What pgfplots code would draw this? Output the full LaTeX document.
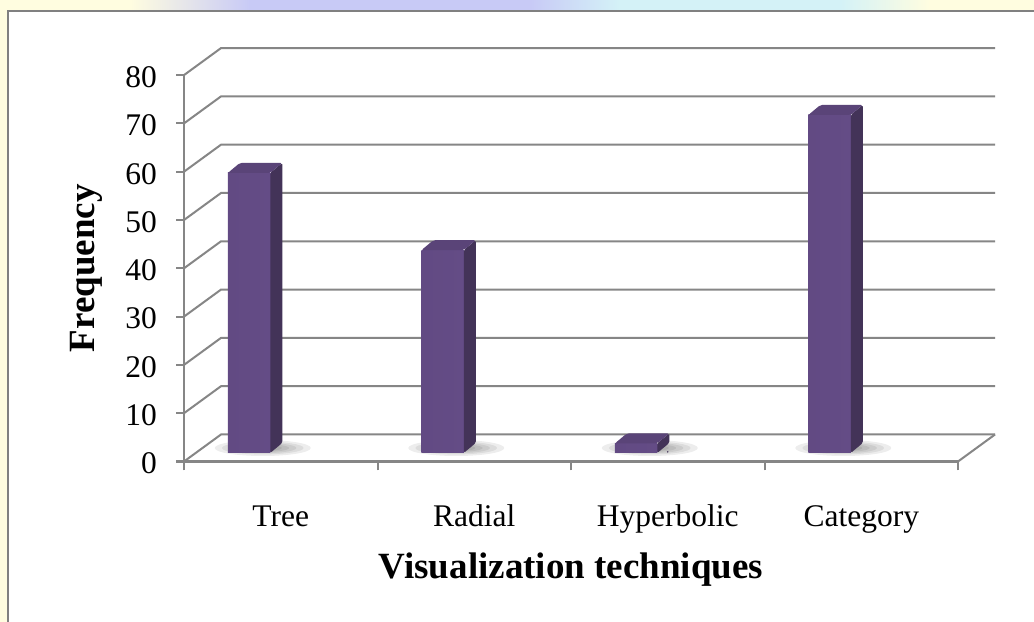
\documentclass[border=0pt]{standalone}
\usepackage{pgfplots}
\pgfplotsset{compat=1.18}
\usepackage{fontspec}
\setmainfont{Liberation Serif}
\definecolor{bgy}{RGB}{255,253,224}
\definecolor{lav}{RGB}{200,202,246}
\definecolor{cya}{RGB}{212,242,247}
\definecolor{gridc}{RGB}{134,134,134}
\definecolor{brdc}{RGB}{128,128,128}
\definecolor{fl}{RGB}{98,74,131}
\definecolor{fm}{RGB}{110,85,146}
\definecolor{fr}{RGB}{100,76,134}
\definecolor{sidec}{RGB}{67,51,88}
\definecolor{topc}{RGB}{90,68,120}
\pgfplotstableread{
x v
0.5 58
1.5 42
2.5 2
3.5 70
}\datatable
\begin{document}
\begin{tikzpicture}
\useasboundingbox (0bp,0bp) rectangle (1034bp,622bp);
\fill[bgy] (0bp,0bp) rectangle (1034bp,622bp);
\shade[left color=bgy, right color=lav] (130bp,612bp) rectangle (250bp,622bp);
\fill[lav] (250bp,612bp) rectangle (530bp,622bp);
\shade[left color=lav, right color=cya] (530bp,612bp) rectangle (620bp,622bp);
\fill[cya] (620bp,612bp) rectangle (840bp,622bp);
\shade[left color=cya, right color=bgy] (840bp,612bp) rectangle (930bp,622bp);
\fill[white] (8bp,0bp) rectangle (1034bp,611bp);
\draw[brdc, line width=2bp] (8bp,0bp) -- (8bp,611bp) -- (1034bp,611bp);
\begin{axis}[
  at={(184bp,160.5bp)}, anchor=south west,
  x=193.5bp, y=4.83bp,
  xmin=0, xmax=4, ymin=0, ymax=80,
  enlargelimits=false, clip=false,
  axis x line*=bottom, axis y line*=left,
  axis line style={gridc, line width=2bp},
  every tick/.style={gridc, line width=2bp},
  tick align=outside,
  major tick length=8bp, minor tick length=9bp,
  xtick={0.5,1.5,2.5,3.5},
  xticklabels={Tree,Radial,Hyperbolic,Category},
  major x tick style={draw=none},
  minor xtick={0,1,2,3,4},
  ytick={0,10,...,80},
  /pgf/number format/assume math mode=true,
  tick label style={font=\fontsize{31.5bp}{36bp}\selectfont, inner sep=0pt},
  yticklabel style={anchor=east, xshift=-19bp, yshift=-2bp},
  xticklabel style={anchor=base, yshift=-57bp},
  xlabel={Visualization techniques},
  ylabel={Frequency},
  label style={font=\fontsize{37bp}{42bp}\selectfont\bfseries},
  xlabel style={at={([yshift=-116.5bp]axis description cs:0.5,0)}, anchor=base},
  ylabel style={at={([xshift=-98bp]axis description cs:0,0.5)}, anchor=center},
]
\pgfplotsinvokeforeach{0,10,...,80}{
  \draw[gridc, line width=2bp] (axis cs:0,#1) -- ++(37bp,27bp) -- ([shift={(37bp,27bp)}]axis cs:4,#1);
}
\draw[gridc, line width=2bp] (axis cs:4,0) -- ++(37bp,27bp);
\addplot[
  scatter, only marks, mark=*, mark size=0.5pt,
  mark options={draw=sidec, fill=sidec},
  visualization depends on={rawy \as \barval},
  scatter/@pre marker code/.code={
    \pgfmathsetlengthmacro\hb{(8.5-\barval*4.83)*1bp}
    \foreach \r/\s in {1.0/1.0,0.85/0.8,0.7/0.65,0.55/0.5,0.4/0.38}{
      \path[fill=black, draw=none, fill opacity=0.07]
        (-18bp,\hb+5bp) ellipse [x radius=\r*48bp, y radius=\s*8bp];
    }
    \path[draw=none, left color=fl, middle color=fm, right color=fr, fill opacity=1]
      (-52.8bp,\hb) rectangle (-10.5bp,8.5bp);
    \path[draw=none, fill=sidec, fill opacity=1, rounded corners=1.5bp]
      (-10.5bp,\hb) -- (1.5bp,\hb+10bp) -- (1.5bp,18.5bp) -- (-10.5bp,8.5bp) -- cycle;
    \path[draw=none, fill=topc, fill opacity=1, rounded corners=2bp]
      (-52.8bp,8.5bp) -- (-40.8bp,18.5bp) -- (1.5bp,18.5bp) -- (-10.5bp,8.5bp) -- cycle;
    \scope
  },
  scatter/@post marker code/.code={\endscope},
] table[x=x,y=v] {\datatable};
\end{axis}
\end{tikzpicture}
\end{document}
